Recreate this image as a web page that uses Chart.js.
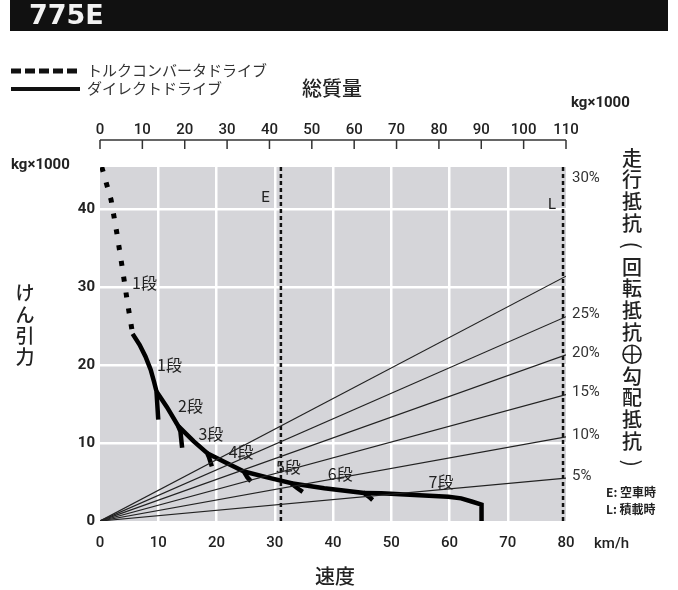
<!DOCTYPE html>
<html>
<head>
<meta charset="utf-8">
<script src="https://cdn.jsdelivr.net/npm/chart.js@4.4.1/dist/chart.umd.min.js"></script>
<style>
  html, body { margin: 0; padding: 0; background: #fff; }
  #wrap { width: 678px; height: 590px; position: relative; }
</style>
</head>
<body>
<div id="wrap"><canvas id="chart"></canvas></div>
<script>
// traction curves: [speed km/h, rimpull kg x1000]
var torqueConv = [[0.3, 45.4], [1.9, 41.2], [2.9, 36.9], [3.8, 32.6], [4.7, 28.1], [5.6, 24.0]];
var gear1 = [[5.6, 24.0], [6.8, 22.6], [7.8, 21.1], [8.7, 19.4], [9.3, 17.8], [9.7, 16.6], [10.0, 13.0]];
var gear2 = [[9.7, 16.6], [11.5, 14.6], [13.4, 12.2], [13.8, 11.5], [14.1, 9.4]];
var gear3 = [[13.4, 12.2], [16.1, 10.2], [18.4, 8.7], [18.7, 8.2], [19.2, 7.0]];
var gear4 = [[18.4, 8.7], [21.3, 7.6], [24.7, 6.35], [25.3, 5.6], [25.9, 5.1]];
var gear5 = [[24.7, 6.35], [28.7, 5.6], [32.8, 4.85], [33.9, 4.2], [34.8, 3.75]];
var gear6 = [[32.8, 4.85], [38.5, 4.2], [45.3, 3.6], [46.2, 3.1], [46.8, 2.7]];
var gear7 = [[45.3, 3.6], [48.3, 3.55], [54.0, 3.35], [59.8, 3.1], [62.0, 2.9], [63.8, 2.5], [65.5, 2.1], [65.5, 0]];

// grade resistance lines (total mass axis): grade %, force at 110 t
var grades = [5, 10, 15, 20, 25, 30];
var gradeForceAt110 = [5.5, 10.8, 16.2, 21.3, 26.2, 31.4];

// empty / loaded mass (kg x1000)
var emptyMass = 42.7;
var loadedMass = 109.3;

var gearLabels = [
  { text: '1段', x: 5.5, y: 30.5 },
  { text: '1段', x: 9.8, y: 20.0 },
  { text: '2段', x: 13.4, y: 14.7 },
  { text: '3段', x: 16.9, y: 11.2 },
  { text: '4段', x: 22.1, y: 8.8 },
  { text: '5段', x: 30.2, y: 6.9 },
  { text: '6段', x: 39.1, y: 6.0 },
  { text: '7段', x: 56.4, y: 5.0 }
];

var JP = '"Noto Sans CJK JP", sans-serif';
var NUM = 'Roboto, "Liberation Sans", sans-serif';

function pts(arr) {
  return arr.map(function (p) { return { x: p[0], y: p[1] }; });
}

var datasets = [];
grades.forEach(function (g, i) {
  datasets.push({
    label: g + '%', xAxisID: 'mass',
    data: [{ x: 0, y: 0 }, { x: 110, y: gradeForceAt110[i] }],
    borderColor: '#222', borderWidth: 1.2
  });
});
datasets.push({
  label: 'E', xAxisID: 'mass',
  data: [{ x: emptyMass, y: 0 }, { x: emptyMass, y: 45.4 }],
  borderColor: '#111', borderWidth: 2.5, borderDash: [4, 3]
});
datasets.push({
  label: 'L', xAxisID: 'mass',
  data: [{ x: loadedMass, y: 0 }, { x: loadedMass, y: 45.4 }],
  borderColor: '#111', borderWidth: 2.5, borderDash: [4, 3]
});
datasets.push({
  label: 'トルクコンバータドライブ', xAxisID: 'x',
  data: pts(torqueConv), borderColor: '#000', borderWidth: 5, borderDash: [5, 11]
});
[gear1, gear2, gear3, gear4, gear5, gear6, gear7].forEach(function (g, i) {
  datasets.push({
    label: (i + 1) + '段', xAxisID: 'x',
    data: pts(g), borderColor: '#000', borderWidth: 4.5
  });
});

var decor = {
  id: 'decor',
  beforeDraw: function (chart) {
    var a = chart.chartArea, c = chart.ctx;
    c.save();
    c.fillStyle = '#d5d5d9';
    c.fillRect(a.left, a.top, a.right - a.left, a.bottom - a.top);
    c.restore();
  },
  afterDraw: function (chart) {
    var c = chart.ctx, a = chart.chartArea;
    var xs = chart.scales.x, ys = chart.scales.y, ms = chart.scales.mass;
    c.save();

    // title bar
    c.fillStyle = '#111';
    c.fillRect(10, 0, 658, 31);
    c.fillStyle = '#f2f2f2';
    c.font = 'bold 27px "DejaVu Sans", sans-serif';
    c.textBaseline = 'middle';
    c.textAlign = 'left';
    c.fillText('775E', 29, 17);

    // legend
    c.strokeStyle = '#111';
    c.lineWidth = 5;
    c.setLineDash([10, 4]);
    c.beginPath(); c.moveTo(11, 71); c.lineTo(80, 71); c.stroke();
    c.setLineDash([]);
    c.lineWidth = 4;
    c.beginPath(); c.moveTo(11, 89); c.lineTo(80, 89); c.stroke();
    c.fillStyle = '#333';
    c.font = '15px ' + JP;
    c.fillText('トルクコンバータドライブ', 87, 70);
    c.fillText('ダイレクトドライブ', 87, 88);

    // top axis (total mass)
    var ay = 140;
    c.strokeStyle = '#333';
    c.lineWidth = 1.5;
    c.beginPath();
    c.moveTo(ms.getPixelForValue(0), ay);
    c.lineTo(ms.getPixelForValue(110), ay);
    c.stroke();
    ms.ticks.forEach(function (t) {
      var px = ms.getPixelForValue(t.value);
      c.beginPath(); c.moveTo(px, ay); c.lineTo(px, ay + 9); c.stroke();
    });

    // axis titles
    c.fillStyle = '#222';
    c.font = '500 20px ' + JP;
    c.textAlign = 'center';
    c.fillText('総質量', 332, 88);
    c.fillText('速度', 335, 576);
    c.font = 'bold 15px ' + NUM;
    c.textAlign = 'left';
    c.fillText('kg\u00d71000', 571, 103);
    c.fillText('kg\u00d71000', 11, 165);
    c.font = '500 15px ' + NUM;
    c.fillText('km/h', 594, 544);

    // vertical titles
    c.textAlign = 'center';
    c.font = '500 19px ' + JP;
    var left = ['け', 'ん', '引', '力'];
    left.forEach(function (ch, i) { c.fillText(ch, 25, 293 + i * 21.3); });
    var right = ['走', '行', '抵', '抗', '(', '回', '転', '抵', '抗', '\u2295', '勾', '配', '抵', '抗', ')'];
    right.forEach(function (ch, i) {
      var py = 158 + i * 21.8;
      if (ch === '(' || ch === ')') {
        c.save();
        c.translate(632, py);
        c.rotate(Math.PI / 2);
        c.font = '22px ' + JP;
        c.fillText(ch, 0, 0);
        c.restore();
      } else if (ch === '\u2295') {
        c.save();
        c.lineWidth = 1.6;
        c.strokeStyle = '#222';
        c.beginPath(); c.arc(632, py, 9, 0, Math.PI * 2); c.stroke();
        c.beginPath();
        c.moveTo(623, py); c.lineTo(641, py);
        c.moveTo(632, py - 9); c.lineTo(632, py + 9);
        c.stroke();
        c.restore();
      } else {
        c.font = '500 20px ' + JP;
        c.fillText(ch, 632, py);
      }
    });

    // grade labels
    c.textAlign = 'left';
    c.font = '15px ' + NUM;
    c.fillStyle = '#333';
    grades.forEach(function (g, i) {
      var py = g === 30 ? a.top + 11 : ys.getPixelForValue(gradeForceAt110[i]) - 2;
      c.fillText(g + '%', 572, py);
    });

    // E / L markers
    c.fillStyle = '#222';
    c.font = '15px ' + NUM;
    c.textAlign = 'right';
    c.fillText('E', ms.getPixelForValue(emptyMass) - 11, 198);
    c.fillText('L', ms.getPixelForValue(loadedMass) - 7, 205);
    c.textAlign = 'left';
    c.font = 'bold 12px ' + JP;
    c.fillText('E: 空車時', 606, 492);
    c.fillText('L: 積載時', 606, 509);

    // gear labels
    c.font = '16px ' + JP;
    c.fillStyle = '#222';
    gearLabels.forEach(function (l) {
      c.fillText(l.text, xs.getPixelForValue(l.x), ys.getPixelForValue(l.y));
    });

    c.restore();
  }
};

new Chart(document.getElementById('chart'), {
  type: 'scatter',
  data: { datasets: datasets },
  options: {
    responsive: true,
    maintainAspectRatio: false,
    animation: false,
    showLine: true,
    layout: { padding: { left: 0, right: 112, top: 0, bottom: 0 } },
    elements: { point: { radius: 0 }, line: { tension: 0, borderCapStyle: 'butt' } },
    plugins: { legend: { display: false }, tooltip: { enabled: false } },
    scales: {
      x: {
        type: 'linear', position: 'bottom', min: 0, max: 80,
        ticks: { stepSize: 10, padding: 13, color: '#222', font: { family: NUM, size: 15, weight: '500' } },
        grid: {
          drawTicks: false, lineWidth: 2.5,
          color: function (ctx) { return (ctx.tick && (ctx.tick.value === 0 || ctx.tick.value === 80)) ? 'rgba(0,0,0,0)' : '#fff'; }
        },
        border: { display: false },
        afterFit: function (s) { s.height = 69; }
      },
      mass: {
        type: 'linear', position: 'top', min: 0, max: 110,
        ticks: { stepSize: 10, padding: 28, color: '#222', font: { family: NUM, size: 15, weight: '500' } },
        grid: { display: false, drawTicks: false },
        border: { display: false },
        afterFit: function (s) { s.height = 167; }
      },
      y: {
        type: 'linear', position: 'left', min: 0, max: 45.4,
        ticks: { stepSize: 10, padding: 5, color: '#222', font: { family: NUM, size: 15, weight: 'bold' } },
        afterBuildTicks: function (s) { s.ticks = s.ticks.filter(function (t) { return t.value % 10 === 0; }); },
        grid: {
          drawTicks: false, lineWidth: 2.5,
          color: function (ctx) { return (ctx.tick && ctx.tick.value === 0) ? 'rgba(0,0,0,0)' : '#fff'; }
        },
        border: { display: false },
        afterFit: function (s) { s.width = 100; }
      }
    }
  },
  plugins: [decor]
});
</script>
</body>
</html>
